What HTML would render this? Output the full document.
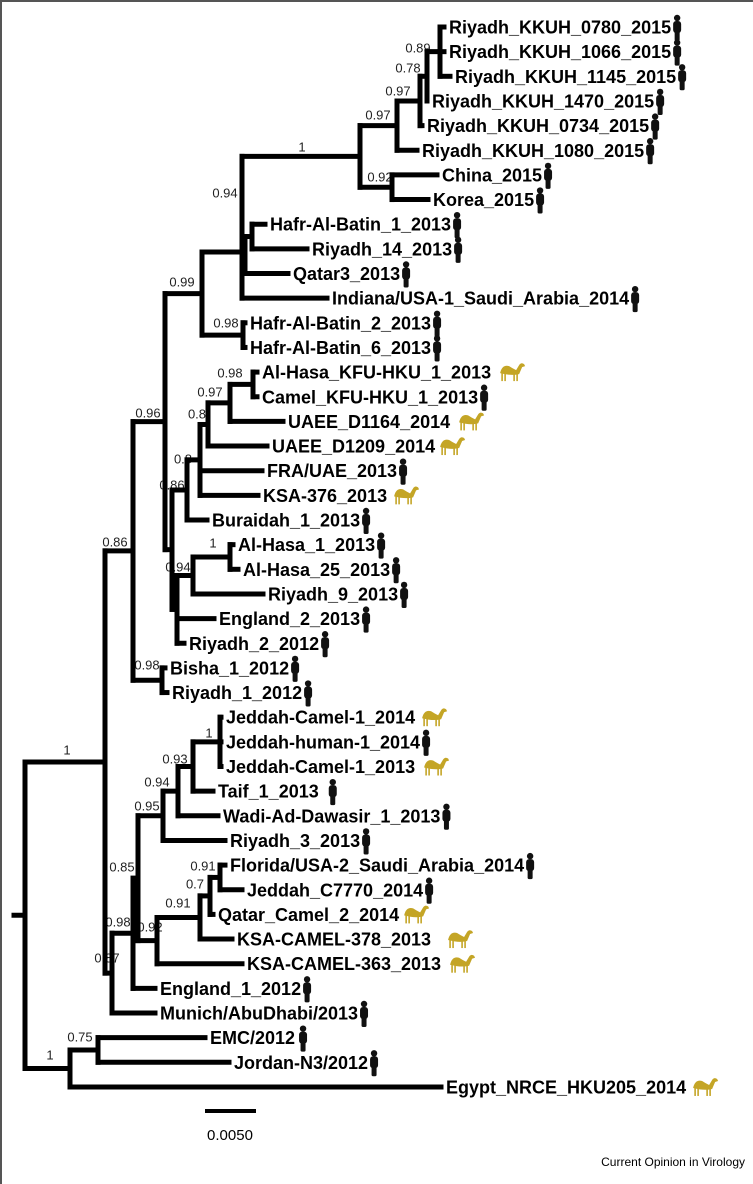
<!DOCTYPE html>
<html><head><meta charset="utf-8"><style>
html,body{margin:0;padding:0;background:#fff;}
svg{display:block;}
.lf{font-family:"Liberation Sans",Arial,sans-serif;font-weight:bold;font-size:18px;fill:#000;}
.sp{font-family:"Liberation Sans",Arial,sans-serif;font-size:13px;fill:#222;}
</style></head><body>
<svg id="chart" width="753" height="1184" viewBox="0 0 753 1184" xmlns="http://www.w3.org/2000/svg">
<line x1="0" y1="1" x2="753" y2="1" stroke="#555" stroke-width="2"/>
<line x1="1" y1="0" x2="1" y2="1184" stroke="#555" stroke-width="2"/>
<g id="supports"></g>
<g id="branches"></g>
<g id="leaves"></g>
<line x1="205" y1="1111" x2="256" y2="1111" stroke="#000" stroke-width="4"/>
<text x="230" y="1140" text-anchor="middle" style="font-family:'Liberation Sans',sans-serif;font-size:15px">0.0050</text>
<text x="745" y="1166" text-anchor="end" style="font-family:'Liberation Sans',sans-serif;font-size:12px">Current Opinion in Virology</text>
</svg>
<script>
// Distances in scale units (51 units = 0.0050 subs/site)
const scaleBarUnits = 51;
const leafNames = ["Riyadh_KKUH_0780_2015","Riyadh_KKUH_1066_2015","Riyadh_KKUH_1145_2015","Riyadh_KKUH_1470_2015","Riyadh_KKUH_0734_2015","Riyadh_KKUH_1080_2015","China_2015","Korea_2015","Hafr-Al-Batin_1_2013","Riyadh_14_2013","Qatar3_2013","Indiana/USA-1_Saudi_Arabia_2014","Hafr-Al-Batin_2_2013","Hafr-Al-Batin_6_2013","Al-Hasa_KFU-HKU_1_2013","Camel_KFU-HKU_1_2013","UAEE_D1164_2014","UAEE_D1209_2014","FRA/UAE_2013","KSA-376_2013","Buraidah_1_2013","Al-Hasa_1_2013","Al-Hasa_25_2013","Riyadh_9_2013","England_2_2013","Riyadh_2_2012","Bisha_1_2012","Riyadh_1_2012","Jeddah-Camel-1_2014","Jeddah-human-1_2014","Jeddah-Camel-1_2013","Taif_1_2013","Wadi-Ad-Dawasir_1_2013","Riyadh_3_2013","Florida/USA-2_Saudi_Arabia_2014","Jeddah_C7770_2014","Qatar_Camel_2_2014","KSA-CAMEL-378_2013","KSA-CAMEL-363_2013","England_1_2012","Munich/AbuDhabi/2013","EMC/2012","Jordan-N3/2012","Egypt_NRCE_HKU205_2014"];
const leafHosts = ["h","h","h","h","h","h","h","h","h","h","h","h","h","h","c","h","c","c","h","c","h","h","h","h","h","h","h","h","c","h","c","h","h","h","h","h","c","c","c","h","h","h","h","c"];
const leafDepths = [430,430,436,413,408,403,423,414,251,293,274,313,231,231,243,243,269,253,248,244,193,219,224,249,200,170,151,153,207,207,207,199,204,211,211,228,199,218,228,141,141,191,215,427];
const iconGap = [4,4,4,4,4,4,4,4,4,4,4,4,4,4,8,4,8,4,4,6,4,4,4,4,4,4,4,4,6,4,8,12,4,4,4,4,4,16,8,4,4,6,4,6];
// internal node depths (same units)
const nodeDepths = {root:11,big:91,n86:119,n96:151,n99:188,n94t:228,n1:346,n97a:383,n97b:406,n78:413,n89:426,n92:378,hg:231,hs:238,n98h:229,m:158,n86b:173,n80a:186,n80b:194,n97:216,n98:239,n94m:163,n94b:179,nah:216,nb:148,n87:98,n98b:119,n85:124,n95:149,n94j:164,n93:179,nj:206,n92b:143,n91:186,n7:196,n91b:206,nb2:56,ne:84};
const nodeYOverride = {n94t:252};
const supportLabels = [["0.89",418,48],["0.78",408,68],["0.97",398,91],["0.97",378,115],["1",302,147],["0.92",380,177],["0.94",225,193],["0.99",182,282],["0.98",226,323],["0.98",230,373],["0.97",210,392],["0.96",148,413],["0.8",197,414],["0.8",183,459],["0.86",172,485],["0.86",115,542],["1",213,543],["0.94",178,567],["0.98",147,665],["1",67,750],["1",209,733],["0.93",175,759],["0.94",157,782],["0.95",147,806],["0.85",122,867],["0.91",203,866],["0.7",195,884],["0.91",178,903],["0.98",118,922],["0.92",150,927],["0.87",107,958],["0.75",80,1037],["1",50,1055]];

const X0 = 14, Y0 = 27, DY = 24.65;
const xs = d => X0 + d * 1.0;
const ys = i => Y0 + i * DY;
const L = i => ({leaf:i});
const N = (k, c) => ({key:k, c});
const tree = N('root',[
 N('big',[
  N('n86',[
   N('n96',[
    N('n99',[
     N('n94t',[
      N('n1',[ N('n97a',[ N('n97b',[ N('n78',[ N('n89',[L(0),L(1),L(2)]), L(3)]), L(4)]), L(5)]), N('n92',[L(6),L(7)]) ]),
      N('hg',[ N('hs',[L(8),L(9)]), L(10)]),
      L(11)
     ]),
     N('n98h',[L(12),L(13)])
    ]),
    N('m',[
     N('n86b',[ N('n80a',[ N('n80b',[ N('n97',[ N('n98',[L(14),L(15)]), L(16)]), L(17)]), L(18), L(19)]), L(20)]),
     N('n94m',[ N('n94b',[ N('nah',[L(21),L(22)]), L(23)]), L(24), L(25)])
    ])
   ]),
   N('nb',[L(26),L(27)])
  ]),
  N('n87',[
   N('n98b',[ N('n85',[
     N('n95',[ N('n94j',[ N('n93',[ N('nj',[L(28),L(29),L(30)]), L(31)]), L(32)]), L(33)]),
     N('n92b',[ N('n91',[ N('n7',[ N('n91b',[L(34),L(35)]), L(36)]), L(37)]), L(38)])
    ]), L(39)]),
   L(40)
  ])
 ]),
 N('nb2',[ N('ne',[L(41),L(42)]), L(43)])
]);

const NS = "http://www.w3.org/2000/svg";
const gB = document.getElementById('branches');
const gL = document.getElementById('leaves');
const gS = document.getElementById('supports');
function line(x1,y1,x2,y2,name){
  const l = document.createElementNS(NS,'line');
  l.setAttribute('x1',x1);l.setAttribute('y1',y1);l.setAttribute('x2',x2);l.setAttribute('y2',y2);
  l.setAttribute('stroke','#000');l.setAttribute('stroke-width','5');l.setAttribute('stroke-linecap','square');
  
  
  gB.appendChild(l);
}
function layout(n){
  if (n.leaf !== undefined){ n.x = xs(leafDepths[n.leaf]); n.y = ys(n.leaf); return; }
  n.c.forEach(layout);
  n.x = xs(nodeDepths[n.key]);
  n.y = nodeYOverride[n.key] !== undefined ? nodeYOverride[n.key] : (n.c[0].y + n.c[n.c.length-1].y)/2;
}
function draw(n){
  if (n.leaf !== undefined) return;
  const ysC = n.c.map(c => c.y).concat([n.y]);
  line(n.x, Math.min(...ysC), n.x, Math.max(...ysC), 'node-' + n.key + '-vertical');
  n.c.forEach(ch => {
    line(n.x, ch.y, ch.x, ch.y, ch.leaf!==undefined ? 'branch-leaf-' + ch.leaf : 'branch-' + ch.key);
    draw(ch);
  });
}
layout(tree);
line(X0, tree.y, tree.x, tree.y, 'root-stub');
draw(tree);

supportLabels.forEach(s => {
  const t = document.createElementNS(NS,'text');
  t.setAttribute('x', s[1]); t.setAttribute('y', s[2] + 4.5);
  t.setAttribute('text-anchor','middle'); t.setAttribute('class','sp');
  t.textContent = s[0];
  
  
  gS.appendChild(t);
});

function human(x, y){
  const g = document.createElementNS(NS,'g');
  g.setAttribute('fill','#111');
  g.innerHTML = `<circle cx="${x+5}" cy="${y-9}" r="3.2"/><rect x="${x+1}" y="${y-6}" width="8" height="12" rx="3"/><rect x="${x+2.5}" y="${y+4}" width="5" height="10" rx="1.5"/>`;
  return g;
}
function camel(x, y){
  const g = document.createElementNS(NS,'g');
  g.setAttribute('fill','#c4a526');
  g.setAttribute('stroke','#c4a526');
  g.innerHTML = `<path stroke="none" d="M${x+1} ${y+1} Q${x+3} ${y-8} ${x+10} ${y-6} Q${x+13} ${y-4} ${x+17} ${y-2} L${x+20} ${y-7} Q${x+22} ${y-10} ${x+25} ${y-8} L${x+26} ${y-6} L${x+23} ${y-5} L${x+20} ${y+2} Q${x+12} ${y+4} ${x+1} ${y+1} Z"/>` +
    `<line x1="${x+3}" y1="${y}" x2="${x+3}" y2="${y+9}" stroke-width="1.6"/><line x1="${x+6}" y1="${y}" x2="${x+6}" y2="${y+9}" stroke-width="1.6"/><line x1="${x+15}" y1="${y}" x2="${x+15}" y2="${y+9}" stroke-width="1.6"/><line x1="${x+18}" y1="${y}" x2="${x+18}" y2="${y+9}" stroke-width="1.6"/>`;
  return g;
}
leafNames.forEach((nm, i) => {
  const x = xs(leafDepths[i]) + 5, y = ys(i);
  const t = document.createElementNS(NS,'text');
  t.setAttribute('x', x); t.setAttribute('y', y + 6.5);
  t.setAttribute('class','lf');
  t.textContent = nm;
  
  
  gL.appendChild(t);
  const w = t.getComputedTextLength();
  const ic = leafHosts[i] === 'h' ? human(x + w + iconGap[i] - 3, y) : camel(x + w + iconGap[i], y);
  
  
  gL.appendChild(ic);
});
</script>
</body></html>
